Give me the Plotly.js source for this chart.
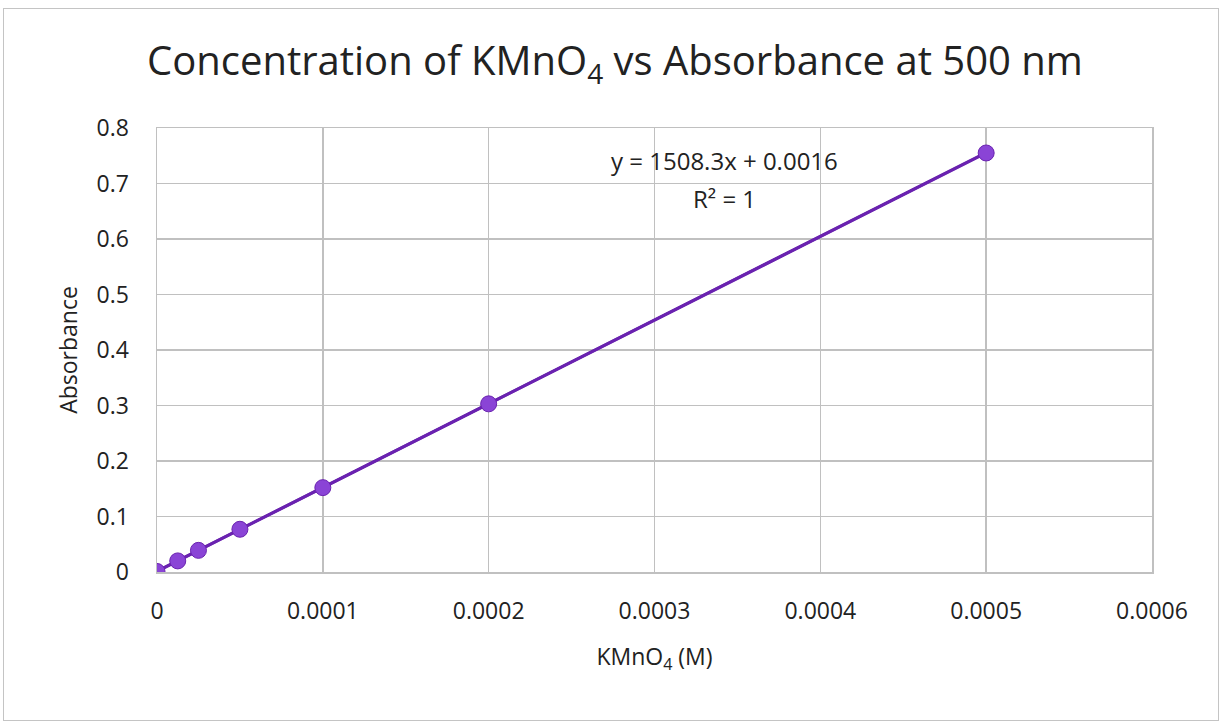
<!DOCTYPE html>
<html>
<head>
<meta charset="utf-8">
<script src="https://cdn.plot.ly/plotly-3.0.1.min.js"></script>
<style>
html,body{margin:0;padding:0;background:#fff;}
#chart{width:1225px;height:721px;}
#frame{position:absolute;left:3px;top:8px;width:1214px;height:711px;border:1px solid #c4c4c4;pointer-events:none;}
</style>
</head>
<body>
<div id="chart"></div>
<div id="frame"></div>
<script>
// Data
const concentration = [0, 0.0000125, 0.000025, 0.00005, 0.0001, 0.0002, 0.0005];
const absorbance = [0.001, 0.020, 0.039, 0.077, 0.152, 0.303, 0.755];
// Linear trendline endpoints (y = 1508.3x + 0.0016)
const trendX = [0, 0.0005];
const trendY = [0.0016, 0.7558];
const xTicks = [0, 0.0001, 0.0002, 0.0003, 0.0004, 0.0005, 0.0006];
const xTickText = ['0', '0.0001', '0.0002', '0.0003', '0.0004', '0.0005', '0.0006'];
const yTicks = [0, 0.1, 0.2, 0.3, 0.4, 0.5, 0.6, 0.7, 0.8];
const yTickText = ['0', '0.1', '0.2', '0.3', '0.4', '0.5', '0.6', '0.7', '0.8'];
const equationText = 'y = 1508.3x + 0.0016';
const r2Text = 'R² = 1';

const font = 'Open Sans, Liberation Sans, sans-serif';

const traces = [
  {
    x: trendX, y: trendY, type: 'scatter', mode: 'lines',
    line: {color: '#6420a8', width: 3}, hoverinfo: 'skip', showlegend: false
  },
  {
    x: concentration, y: absorbance, type: 'scatter', mode: 'lines+markers',
    line: {color: '#6a22b0', width: 3},
    marker: {size: 16, color: '#8a44d6', line: {color: '#6a22b0', width: 1}},
    showlegend: false
  }
];

const layout = {
  width: 1225, height: 721,
  margin: {l: 157, r: 73, t: 128, b: 149},
  paper_bgcolor: '#fff', plot_bgcolor: '#fff',
  title: {
    text: 'Concentration of KMnO<sub>4</sub> vs Absorbance at 500 nm',
    font: {family: font, size: 40, color: '#222'},
    x: 0.502, xanchor: 'center', y: 0.915, yanchor: 'middle'
  },
  xaxis: {
    range: [0, 0.0006], tickvals: xTicks, ticktext: xTickText,
    showgrid: true, gridcolor: '#c0c0c0', gridwidth: 1.5,
    showline: true, linecolor: '#c0c0c0', linewidth: 1.5, mirror: true,
    zeroline: false, ticks: '', ticklabelstandoff: 18,
    tickfont: {family: font, size: 23, color: '#222'},
    title: {text: 'KMnO<sub>4</sub> (M)', font: {family: font, size: 23, color: '#222'}, standoff: 24}
  },
  yaxis: {
    range: [0, 0.8], tickvals: yTicks, ticktext: yTickText,
    showgrid: true, gridcolor: '#c0c0c0', gridwidth: 1.5,
    showline: true, linecolor: '#c0c0c0', linewidth: 1.5, mirror: true,
    zeroline: false, ticks: '', ticklabelstandoff: 22,
    tickfont: {family: font, size: 23, color: '#222'},
    title: {text: 'Absorbance', font: {family: font, size: 23, color: '#222'}, standoff: 12}
  },
  annotations: [
    {
      x: 0.000342, y: 0.742, xref: 'x', yref: 'y',
      text: equationText, showarrow: false,
      font: {family: font, size: 24, color: '#222'}
    },
    {
      x: 0.000342, y: 0.673, xref: 'x', yref: 'y',
      text: r2Text, showarrow: false,
      font: {family: font, size: 24, color: '#222'}
    }
  ]
};

Plotly.newPlot('chart', traces, layout, {displayModeBar: false, staticPlot: true});
</script>
</body>
</html>
